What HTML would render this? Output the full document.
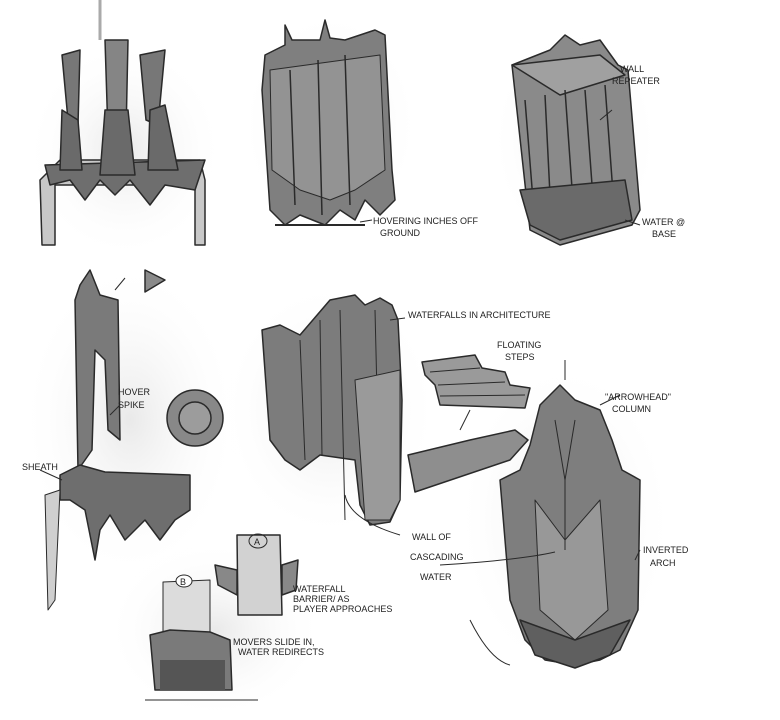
<!DOCTYPE html>
<html><head><style>
html,body{margin:0;padding:0;background:#fff;}
svg{display:block;}
text{font-family:"Liberation Sans",sans-serif;font-size:9px;fill:#222;}
</style></head><body>
<svg width="780" height="720" viewBox="0 0 780 720" xmlns="http://www.w3.org/2000/svg">
<defs>
<radialGradient id="bg" cx="50%" cy="50%" r="50%"><stop offset="0" stop-color="#e9e9e9"/><stop offset="1" stop-color="#fff" stop-opacity="0"/></radialGradient>
</defs>
<rect width="780" height="720" fill="#fff"/>
<!-- soft backgrounds -->
<ellipse cx="125" cy="150" rx="100" ry="110" fill="url(#bg)"/>
<ellipse cx="330" cy="125" rx="90" ry="115" fill="url(#bg)"/>
<ellipse cx="575" cy="140" rx="85" ry="115" fill="url(#bg)"/>
<ellipse cx="130" cy="420" rx="110" ry="160" fill="url(#bg)"/>
<ellipse cx="330" cy="410" rx="110" ry="130" fill="url(#bg)"/>
<ellipse cx="565" cy="520" rx="110" ry="160" fill="url(#bg)"/>
<ellipse cx="215" cy="630" rx="110" ry="90" fill="url(#bg)"/>

<g stroke="#2a2a2a" stroke-width="1.5" stroke-linejoin="round">
<!-- 1 crown -->
<line x1="100" y1="0" x2="100" y2="40" stroke="#aaa" stroke-width="3"/>
<path d="M42 245 L40 180 L60 160 L200 160 L205 180 L205 245 L195 245 L195 185 L55 185 L55 245Z" fill="#c8c8c8"/>
<path d="M45 165 L205 160 L195 190 L165 185 L150 205 L130 180 L115 195 L100 180 L85 200 L70 180 L50 185Z" fill="#6e6e6e"/>
<path d="M62 55 L80 50 L78 125 L68 120Z" fill="#777"/>
<path d="M105 40 L128 40 L126 135 L108 135Z" fill="#858585"/>
<path d="M140 55 L165 50 L158 125 L146 120Z" fill="#777"/>
<path d="M62 110 L78 120 L82 170 L60 170Z" fill="#6a6a6a"/>
<path d="M105 110 L128 110 L135 175 L100 175Z" fill="#6a6a6a"/>
<path d="M150 110 L165 105 L178 170 L148 170Z" fill="#6a6a6a"/>

<!-- 2 top middle block -->
<path d="M265 55 L285 45 L285 25 L292 40 L320 40 L325 20 L330 38 L345 40 L375 30 L385 35 L392 170 L395 200 L380 215 L365 200 L355 220 L340 210 L325 225 L300 215 L285 225 L270 210 L262 90Z" fill="#7f7f7f"/>
<path d="M270 70 L380 55 L385 170 L355 190 L330 200 L300 190 L272 170Z" fill="#939393" stroke-width="1"/>
<path d="M290 70 L295 205 M318 60 L322 215 M345 55 L350 205" fill="none"/>
<line x1="275" y1="225" x2="365" y2="225" stroke-width="2"/>

<!-- 3 top right prism -->
<path d="M512 65 L550 50 L565 35 L580 45 L600 40 L618 65 L628 70 L640 210 L632 225 L560 245 L530 230 Z" fill="#8a8a8a"/>
<path d="M512 65 L600 55 L625 75 L560 95 Z" fill="#a0a0a0"/>
<path d="M525 100 L535 225 M545 95 L552 235 M565 90 L575 230 M585 90 L595 225 M605 85 L615 220" fill="none"/>
<path d="M520 190 L625 180 L632 220 L560 240 L530 225Z" fill="#6a6a6a"/>

<!-- 4 left column -->
<path d="M80 285 L90 270 L100 295 L118 300 L120 440 L108 430 L105 360 L95 350 L92 450 L78 470 L75 300Z" fill="#7a7a7a"/>
<path d="M60 475 L80 465 L105 472 L190 475 L190 510 L175 520 L160 540 L145 520 L125 540 L110 515 L100 530 L95 560 L85 510 L70 500 L60 500Z" fill="#6e6e6e"/>
<path d="M45 495 L60 490 L55 600 L48 610Z" fill="#cfcfcf" stroke-width="1"/>
<circle cx="195" cy="418" r="28" fill="#888"/>
<circle cx="195" cy="418" r="16" fill="#9c9c9c"/>
<path d="M145 270 L165 280 L145 292Z" fill="#8a8a8a"/>

<!-- 5 waterfall architecture -->
<path d="M262 330 L280 325 L300 335 L330 300 L355 295 L365 305 L380 298 L392 305 L398 320 L402 400 L400 500 L390 522 L370 525 L360 505 L355 460 L320 455 L300 470 L285 460 L270 440 Z" fill="#7c7c7c"/>
<path d="M340 310 L345 520 M300 340 L305 460 M320 320 L322 455 M375 310 L380 520" fill="none" stroke-width="1"/>
<path d="M355 380 L400 370 L400 500 L390 520 L365 520 Z" fill="#9a9a9a" stroke-width="1"/>

<!-- 6 steps & bench -->
<path d="M422 362 L475 355 L482 368 L505 372 L510 385 L530 388 L525 408 L440 405 L435 385 L425 375Z" fill="#9a9a9a"/>
<path d="M430 372 L480 368 M438 385 L505 382 M440 396 L525 395" fill="none" stroke-width="1"/>
<path d="M408 455 L470 440 L515 430 L528 440 L510 460 L415 492 Z" fill="#8e8e8e"/>

<!-- 7 arrowhead column -->
<path d="M540 405 L560 385 L575 400 L600 410 L612 440 L622 470 L640 480 L638 610 L620 650 L600 660 L575 665 L545 660 L525 640 L510 600 L500 480 L520 470 L530 445Z" fill="#7e7e7e"/>
<path d="M535 500 L565 540 L600 500 L608 610 L575 640 L540 610 Z" fill="#989898" stroke-width="1"/>
<path d="M555 420 L565 480 L575 420 M565 480 L565 550" fill="none" stroke-width="1"/>
<path d="M520 620 L575 640 L630 620 L610 655 L575 668 L535 655Z" fill="#5f5f5f"/>

<!-- 8 small sketches -->
<path d="M237 535 L280 535 L282 615 L238 615Z" fill="#d2d2d2"/>
<path d="M215 565 L237 570 L237 595 L218 585Z M282 565 L298 560 L296 590 L282 595Z" fill="#888"/>
<ellipse cx="258" cy="541" rx="9" ry="7" fill="none" stroke-width="1"/>
<path d="M163 582 L210 580 L210 632 L163 632Z" fill="#dcdcdc" stroke-width="1"/>
<path d="M150 635 L170 630 L210 632 L230 640 L232 690 L155 690Z" fill="#7a7a7a"/>
<path d="M160 660 L225 660 L225 690 L160 690Z" fill="#555" stroke="none"/>
<ellipse cx="184" cy="581" rx="8" ry="6" fill="#fff" stroke-width="1"/>
<line x1="145" y1="700" x2="258" y2="700" stroke-width="1"/>

<!-- leader lines -->
<g fill="none" stroke-width="1">
<path d="M360 222 L372 220"/><path d="M612 110 L600 120"/><path d="M625 220 L640 225"/>
<path d="M115 290 L125 278"/><path d="M390 320 L405 318"/><path d="M460 430 L470 410"/>
<path d="M600 405 L620 395"/><path d="M640 550 L635 560"/><path d="M565 360 L565 380"/>
<path d="M400 535 Q350 520 345 495"/><path d="M440 565 Q520 560 555 552"/>
<path d="M470 620 Q490 660 510 665"/><path d="M40 470 L62 480"/><path d="M120 405 L110 415"/>
</g>
</g>

<text x="373" y="224">HOVERING INCHES OFF</text>
<text x="380" y="236">GROUND</text>
<text x="620" y="72">WALL</text>
<text x="612" y="84">REPEATER</text>
<text x="642" y="225">WATER @</text>
<text x="652" y="237" font-size="7">BASE</text>
<text x="118" y="395">HOVER</text>
<text x="118" y="408">SPIKE</text>
<text x="22" y="470">SHEATH</text>
<text x="408" y="318">WATERFALLS IN ARCHITECTURE</text>
<text x="497" y="348">FLOATING</text>
<text x="505" y="360">STEPS</text>
<text x="605" y="400">"ARROWHEAD"</text>
<text x="612" y="412">COLUMN</text>
<text x="643" y="553">INVERTED</text>
<text x="650" y="566">ARCH</text>
<text x="412" y="540">WALL OF</text>
<text x="410" y="560">CASCADING</text>
<text x="420" y="580">WATER</text>
<text x="293" y="592" font-size="7">WATERFALL</text>
<text x="293" y="602" font-size="7">BARRIER/ AS</text>
<text x="293" y="612" font-size="7">PLAYER APPROACHES</text>
<text x="233" y="645" font-size="7">MOVERS SLIDE IN,</text>
<text x="238" y="655" font-size="7">WATER REDIRECTS</text>
<text x="254" y="545" font-size="8">A</text>
<text x="180" y="585" font-size="8">B</text>
</svg>
</body></html>
